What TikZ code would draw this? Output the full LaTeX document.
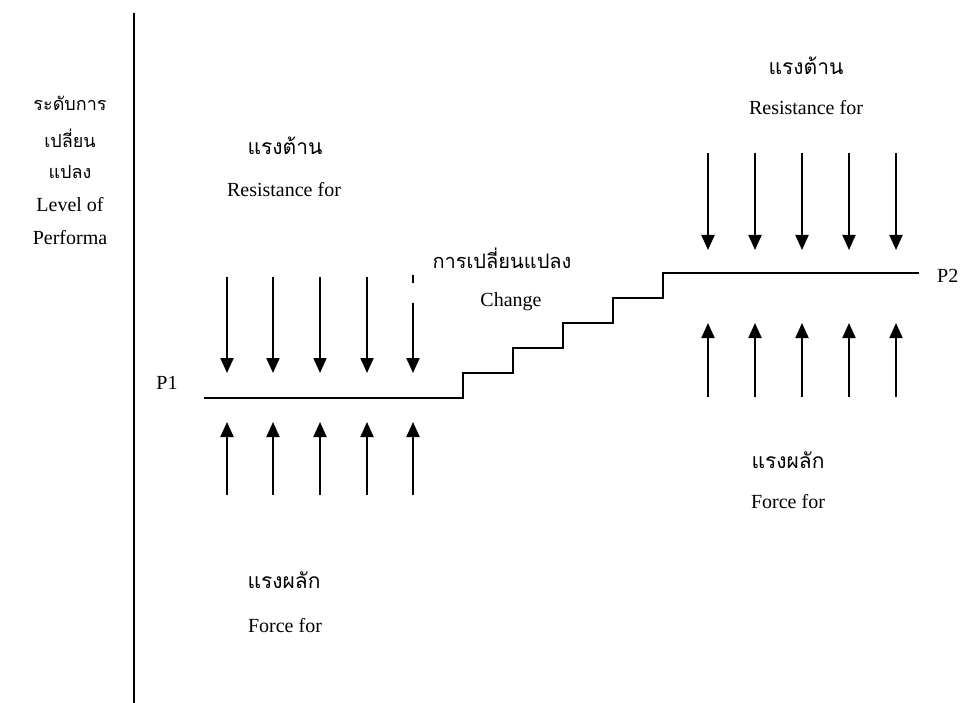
\documentclass[tikz,border=0pt]{standalone}
\usepackage{fontspec}
\setmainfont{Liberation Serif}
\newfontfamily\thaifont[Script=Thai]{Loma}
\usetikzlibrary{arrows.meta}

\begin{document}
\begin{tikzpicture}[x=1pt,y=-1pt,
  force/.style={line width=2pt,-{Triangle[width=13pt,length=15pt]}},
  lat/.style={font=\fontsize{20}{23}\selectfont, inner sep=0pt},
  thai/.style={font=\thaifont\fontsize{21}{25}\selectfont, inner sep=0pt},
  thaismall/.style={font=\thaifont\fontsize{18}{22}\selectfont, inner sep=0pt},
  level/.style={line width=2pt, line join=miter}]

\useasboundingbox (0,0) rectangle (961,703);
\fill[white] (0,0) rectangle (961,703);

% vertical axis
\coordinate (axtop) at (134,13);
\coordinate (axbot) at (134,703);
\draw[line width=2.5pt] (axtop) -- (axbot);

% axis caption
\node[thaismall] (ylab1) at (70,103) {ระดับการ};
\node[thaismall] (ylab2) at (70,138) {เปลี่ยน};
\node[thaismall] (ylab3) at (70,172) {แปลง};
\node[lat]       (ylab4) at (70,205) {Level of};
\node[lat]       (ylab5) at (70,238) {Performa};

% level P1 and the staircase up to level P2
\node[lat] (p1) at (167,383) {P1};
\node[lat, anchor=west] (p2) at (937,276) {P2};
\coordinate (p1start) at (204,398);
\coordinate (p2end) at (919,273);
\draw[level] (p1start) -- (463,398) -- (463,373) -- (513,373) -- (513,348)
  -- (563,348) -- (563,323) -- (613,323) -- (613,298) -- (663,298)
  -- (663,273) -- (p2end);

% change label
\node[thaismall, font=\thaifont\fontsize{20}{24}\selectfont] (chth) at (502,258) {การเปลี่ยนแปลง};
\node[lat]  (chen) at (511,302) {Change};

% forces at P1
\node[thai] (res1th) at (285,146) {แรงต้าน};
\node[lat]  (res1en) at (284,190) {Resistance for};
\foreach \i/\x in {1/227,2/273,3/320,4/367} {
  \coordinate (rd\i) at (\x,277);
  \coordinate (rt\i) at (\x,373);
  \draw[force] (rd\i) -- (rt\i);
}
\coordinate (rd5) at (413,275);
\coordinate (rd5b) at (413,283);
\coordinate (rd5c) at (413,303);
\coordinate (rt5) at (413,373);
\draw[line width=2pt] (rd5) -- (rd5b);
\draw[force] (rd5c) -- (rt5);

\foreach \i/\x in {1/227,2/273,3/320,4/367,5/413} {
  \coordinate (fb\i) at (\x,495);
  \coordinate (ft\i) at (\x,422);
  \draw[force] (fb\i) -- (ft\i);
}
\node[thai] (frc1th) at (284,580) {แรงผลัก};
\node[lat]  (frc1en) at (285,626) {Force for};

% forces at P2
\node[thai] (res2th) at (806,66) {แรงต้าน};
\node[lat]  (res2en) at (806,108) {Resistance for};
\foreach \i/\x in {1/708,2/755,3/802,4/849,5/896} {
  \coordinate (sd\i) at (\x,153);
  \coordinate (st\i) at (\x,250);
  \draw[force] (sd\i) -- (st\i);
  \coordinate (gb\i) at (\x,397);
  \coordinate (gt\i) at (\x,323);
  \draw[force] (gb\i) -- (gt\i);
}
\node[thai] (frc2th) at (788,460) {แรงผลัก};
\node[lat]  (frc2en) at (788,502) {Force for};

\end{tikzpicture}
\end{document}
